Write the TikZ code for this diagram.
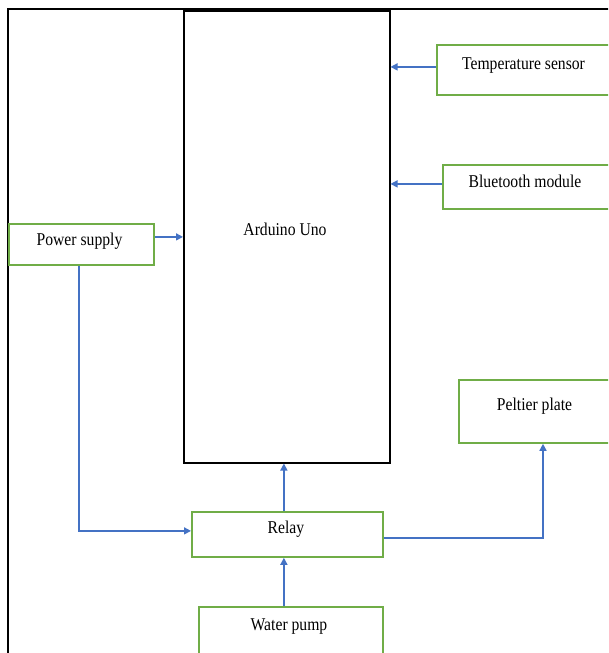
\documentclass[tikz,border=0pt]{standalone}
\usepackage{fontspec}
\setmainfont{Liberation Serif}
\usetikzlibrary{arrows.meta,calc}
\definecolor{boxgreen}{RGB}{112,173,71}
\definecolor{arrblue}{RGB}{68,114,196}
\tikzset{
  gbox/.style={draw=boxgreen, line width=1.8pt, inner sep=0pt, anchor=north west},
  kbox/.style={draw=black, line width=1.5pt, inner sep=0pt, anchor=north west},
  lbl/.style={anchor=base, inner sep=0pt, font=\fontsize{18}{20}\selectfont, xscale=0.87},
  arr/.style={draw=arrblue, line width=1.5pt, -{Triangle[length=7pt,width=7pt]}},
  ln/.style={draw=arrblue, line width=1.5pt}
}
\begin{document}
\begin{tikzpicture}[x=1pt,y=-1pt]
\clip (0,0) rectangle (608,653);
\fill[white] (0,0) rectangle (608,653);
% frame
\draw[line width=2pt] (8,660) -- (8,9) -- (620,9);
% boxes
\node[kbox, minimum width=206pt, minimum height=452pt] (ard) at (183,10) {};
\node[gbox, minimum width=180pt, minimum height=50pt] (temp) at (436,44) {};
\node[gbox, minimum width=175pt, minimum height=44pt] (bt) at (442,164) {};
\node[gbox, minimum width=145pt, minimum height=41pt] (ps) at (8,223) {};
\node[gbox, minimum width=191pt, minimum height=45pt] (relay) at (191,511) {};
\node[gbox, minimum width=184pt, minimum height=60pt] (pump) at (198,606) {};
\node[gbox, minimum width=160pt, minimum height=63pt] (pelt) at (458,379) {};
% labels
\node[lbl] (ardt) at (285,235) {Arduino Uno};
\node[lbl] (tempt) at (523.5,69) {Temperature sensor};
\node[lbl] (btt) at (525,187) {Bluetooth module};
\node[lbl] (pst) at (79.5,245) {Power supply};
\node[lbl] (relayt) at (286,533) {Relay};
\node[lbl] (pumpt) at (289,630) {Water pump};
\node[lbl] (peltt) at (534.5,410) {Peltier plate};
% connectors
\coordinate (tA) at ([yshift=3pt]temp.west);
\draw[arr] (tA) -- (tA -| ard.east);
\coordinate (bA) at ([yshift=3pt]bt.west);
\draw[arr] (bA) -- (bA -| ard.east);
\coordinate (pA) at ([yshift=7.5pt]ps.east);
\draw[arr] (pA) -- (pA -| ard.west);
\coordinate (pB) at ([xshift=-2.5pt]ps.south);
\coordinate (rA) at ([yshift=3.5pt]relay.west);
\draw[arr] (pB) |- (rA);
\coordinate (rT) at ([xshift=-3.5pt]relay.north);
\draw[arr] (rT) -- (rT |- ard.south);
\coordinate (wT) at (rT |- pump.north);
\draw[arr] (wT) -- (wT |- relay.south);
\coordinate (rE) at ([yshift=-3.5pt]relay.east);
\coordinate (pelB) at ([xshift=85pt]pelt.south west);
\draw[arr] (rE) -| (pelB);
\end{tikzpicture}
\end{document}
